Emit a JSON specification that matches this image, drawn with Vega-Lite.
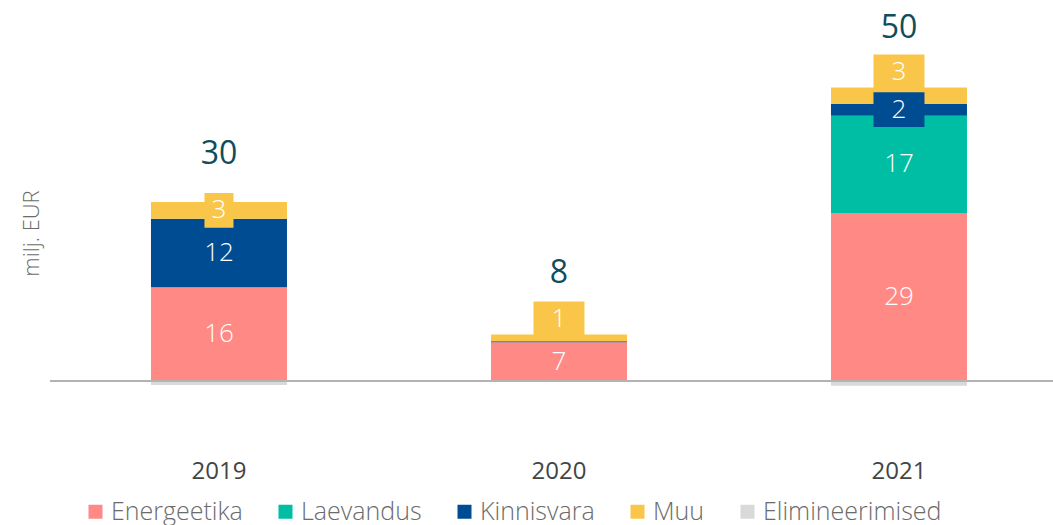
{
  "$schema": "https://vega.github.io/schema/vega-lite/v6.json",
  "width": 1003,
  "height": 466,
  "autosize": {"type": "none"},
  "padding": {"left": 50, "right": 0, "top": 0, "bottom": 59},
  "background": "white",
  "config": {
    "view": {"stroke": null},
    "font": "Open Sans"
  },
  "data": {
    "values": [
      {"year": "2019", "cat": "Energeetika", "value": 16.2},
      {"year": "2019", "cat": "Laevandus", "value": 0},
      {"year": "2019", "cat": "Kinnisvara", "value": 11.8},
      {"year": "2019", "cat": "Muu", "value": 2.9},
      {"year": "2019", "cat": "Elimineerimised", "value": -0.7},
      {"year": "2020", "cat": "Energeetika", "value": 6.7},
      {"year": "2020", "cat": "Laevandus", "value": 0},
      {"year": "2020", "cat": "Kinnisvara", "value": 0.15},
      {"year": "2020", "cat": "Muu", "value": 1.2},
      {"year": "2020", "cat": "Elimineerimised", "value": -0.1},
      {"year": "2021", "cat": "Energeetika", "value": 29.0},
      {"year": "2021", "cat": "Laevandus", "value": 16.8},
      {"year": "2021", "cat": "Kinnisvara", "value": 2.1},
      {"year": "2021", "cat": "Muu", "value": 2.8},
      {"year": "2021", "cat": "Elimineerimised", "value": -0.8}
    ]
  },
  "transform": [
    {"calculate": "indexof(['Energeetika','Laevandus','Kinnisvara','Muu','Elimineerimised'], datum.cat)", "as": "order"},
    {"stack": "value", "groupby": ["year"], "sort": [{"field": "order", "order": "ascending"}], "as": ["y0", "y1"]},
    {"calculate": "datum.cat === 'Muu' || (datum.cat === 'Kinnisvara' && datum.value < 4 && datum.value >= 1)", "as": "isBox"},
    {"calculate": "(datum.cat === 'Muu' && datum.year !== '2019') ? datum.y1 + 2.7 : (datum.y0 + datum.y1) / 2", "as": "ly"},
    {"calculate": "datum.ly - 3", "as": "by0"},
    {"calculate": "datum.ly + 3", "as": "by1"},
    {"calculate": "datum.isBox ? datum.by1 : datum.y1", "as": "top"}
  ],
  "layer": [
    {
      "mark": {"type": "bar"},
      "encoding": {
        "x": {
          "field": "year", "type": "nominal",
          "scale": {"paddingInner": 0.6, "paddingOuter": 0.275, "align": 0.54},
          "axis": {
            "title": null, "domain": false, "ticks": false, "labelAngle": 0,
            "labelFontSize": 24, "labelFontWeight": 500, "labelColor": "#444444",
            "labelBaseline": "top", "labelPadding": -7, "labelFont": "Open Sans"
          }
        },
        "y": {
          "field": "y0", "type": "quantitative",
          "scale": {"domain": [-14.68, 65.8], "nice": false, "zero": false},
          "axis": {
            "title": "milj. EUR", "labels": false, "ticks": false, "domain": false, "grid": false,
            "titleFontSize": 22, "titleFontWeight": 300, "titleColor": "#6b6b6b", "titlePadding": 7, "titleFont": "Open Sans"
          }
        },
        "y2": {"field": "y1"},
        "color": {
          "field": "cat", "type": "nominal",
          "scale": {
            "domain": ["Energeetika", "Laevandus", "Kinnisvara", "Muu", "Elimineerimised"],
            "range": ["#ff8984", "#00bea3", "#004c93", "#f9c64a", "#d9d9d9"]
          },
          "legend": {
            "title": null, "orient": "none", "direction": "horizontal",
            "legendX": 33, "legendY": 499,
            "symbolType": "square", "symbolSize": 196, "symbolStrokeWidth": 0, "symbolOpacity": 1,
            "labelFontSize": 25, "labelFontWeight": 300, "labelColor": "#6b6b6b", "labelFont": "Open Sans",
            "labelOffset": 3, "columnPadding": 30, "labelLimit": 0
          }
        }
      }
    },
    {
      "transform": [{"filter": "datum.isBox"}],
      "mark": {"type": "bar"},
      "encoding": {
        "x": {"field": "year", "type": "nominal"},
        "y": {"field": "by0", "type": "quantitative"},
        "y2": {"field": "by1"},
        "color": {"field": "cat", "type": "nominal", "legend": null},
        "size": {"condition": {"test": "datum.year === '2019'", "value": 29}, "value": 51}
      }
    },
    {
      "data": {"values": [{}]},
      "mark": {"type": "rule", "color": "#b3b3b3", "strokeWidth": 2},
      "encoding": {"y": {"datum": 0, "type": "quantitative"}}
    },
    {
      "transform": [{"filter": "datum.cat !== 'Elimineerimised' && datum.value >= 0.5"}],
      "mark": {"type": "text", "color": "white", "fontSize": 26, "fontWeight": 300, "font": "Open Sans", "baseline": "middle"},
      "encoding": {
        "x": {"field": "year", "type": "nominal"},
        "y": {"field": "ly", "type": "quantitative"},
        "text": {"field": "value", "type": "quantitative", "format": ".0f"}
      }
    },
    {
      "transform": [
        {"aggregate": [{"op": "sum", "field": "value", "as": "total"}, {"op": "max", "field": "top", "as": "tmax"}], "groupby": ["year"]},
        {"calculate": "(datum.tmax + datum.total + 15.65) / 2", "as": "tpos"}
      ],
      "mark": {"type": "text", "color": "#0e4d5c", "fontSize": 32, "fontWeight": 500, "font": "Open Sans", "baseline": "middle"},
      "encoding": {
        "x": {"field": "year", "type": "nominal"},
        "y": {"field": "tpos", "type": "quantitative"},
        "text": {"field": "total", "type": "quantitative", "format": ".0f"}
      }
    }
  ]
}
